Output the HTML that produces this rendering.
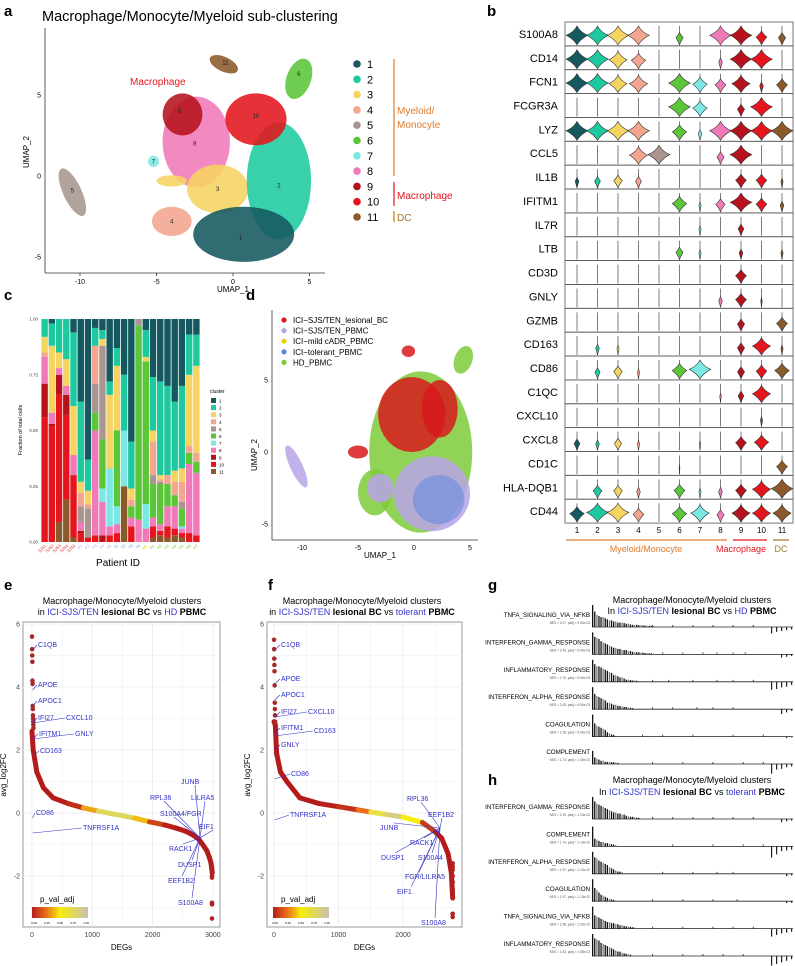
<!DOCTYPE html>
<html><head><meta charset="utf-8"><style>
html,body{margin:0;padding:0;background:#fff;}
svg{display:block;font-family:"Liberation Sans",Arial,sans-serif;}
</style></head><body>
<svg id="fig" width="795" height="966" viewBox="0 0 795 966" xmlns="http://www.w3.org/2000/svg">
<text x="4" y="16" font-size="15" font-weight="bold">a</text>
<text x="487" y="16" font-size="15" font-weight="bold">b</text>
<text x="4" y="300" font-size="15" font-weight="bold">c</text>
<text x="246" y="300" font-size="15" font-weight="bold">d</text>
<text x="4" y="590" font-size="15" font-weight="bold">e</text>
<text x="268" y="590" font-size="15" font-weight="bold">f</text>
<text x="488" y="590" font-size="15" font-weight="bold">g</text>
<text x="488" y="785" font-size="15" font-weight="bold">h</text>

<text x="42" y="21" font-size="14.5">Macrophage/Monocyte/Myeloid sub-clustering</text>
<g id="pa"></g>
<line x1="45" y1="28" x2="45" y2="273" stroke="#333" stroke-width="0.8"/>
<line x1="45" y1="273" x2="325" y2="273" stroke="#333" stroke-width="0.8"/>
<text x="233" y="292" font-size="8" text-anchor="middle">UMAP_1</text>
<text x="0" y="0" font-size="8" text-anchor="middle" transform="translate(29,152) rotate(-90)">UMAP_2</text>
<text x="130" y="85" font-size="10" fill="#e4151d">Macrophage</text>
<g id="paleg"></g>
<line x1="394" y1="59" x2="394" y2="176" stroke="#e07a2a" stroke-width="1.2"/>
<text x="397" y="114" font-size="10" fill="#e07a2a">Myeloid/</text>
<text x="397" y="128" font-size="10" fill="#e07a2a">Monocyte</text>
<line x1="394" y1="182" x2="394" y2="206" stroke="#e4151d" stroke-width="1.2"/>
<text x="397" y="199" font-size="10" fill="#e4151d">Macrophage</text>
<line x1="394" y1="211" x2="394" y2="222" stroke="#b8860b" stroke-width="1.2"/>
<text x="397" y="221" font-size="10" fill="#a0782a">DC</text>

<g id="pb"></g>
<line x1="566" y1="540" x2="727" y2="540" stroke="#e07a2a" stroke-width="1.2"/>
<line x1="733" y1="540" x2="767" y2="540" stroke="#e4151d" stroke-width="1.2"/>
<line x1="773" y1="540" x2="789" y2="540" stroke="#a0782a" stroke-width="1.2"/>
<text x="646" y="552" font-size="9" fill="#e07a2a" text-anchor="middle">Myeloid/Monocyte</text>
<text x="741" y="552" font-size="9" fill="#e4151d" text-anchor="middle">Macrophage</text>
<text x="781" y="552" font-size="9" fill="#a0782a" text-anchor="middle">DC</text>

<g id="pc"></g>
<text x="0" y="0" font-size="5.5" text-anchor="middle" transform="translate(22,430) rotate(-90)">Fraction of total cells</text>
<text x="118" y="566" font-size="10" text-anchor="middle">Patient ID</text>
<text x="210" y="393" font-size="5">cluster</text>

<g id="pd"></g>
<line x1="272" y1="310" x2="272" y2="540" stroke="#333" stroke-width="0.8"/>
<line x1="272" y1="540" x2="478" y2="540" stroke="#333" stroke-width="0.8"/>
<text x="380" y="558" font-size="8" text-anchor="middle">UMAP_1</text>
<text x="0" y="0" font-size="8" text-anchor="middle" transform="translate(257,455) rotate(-90)">UMAP_2</text>
<g id="pdleg"></g>

<text x="122" y="604" font-size="9" text-anchor="middle">Macrophage/Monocyte/Myeloid clusters</text>
<text x="122" y="615" font-size="9" text-anchor="middle">in <tspan fill="#3333cc">ICI-SJS/TEN</tspan> <tspan font-weight="bold">lesional BC</tspan> vs <tspan fill="#3333cc">HD</tspan> <tspan font-weight="bold">PBMC</tspan></text>
<text x="362" y="604" font-size="9" text-anchor="middle">Macrophage/Monocyte/Myeloid clusters</text>
<text x="362" y="615" font-size="9" text-anchor="middle">in <tspan fill="#3333cc">ICI-SJS/TEN</tspan> <tspan font-weight="bold">lesional BC</tspan> vs <tspan fill="#3333cc">tolerant</tspan> <tspan font-weight="bold">PBMC</tspan></text>
<g id="pe"></g>
<g id="pf"></g>

<text x="692" y="603" font-size="9" text-anchor="middle">Macrophage/Monocyte/Myeloid clusters</text>
<text x="692" y="614" font-size="9" text-anchor="middle">In <tspan fill="#3333cc">ICI-SJS/TEN</tspan> <tspan font-weight="bold">lesional BC</tspan> vs <tspan fill="#3333cc">HD</tspan> <tspan font-weight="bold">PBMC</tspan></text>
<text x="692" y="783" font-size="9" text-anchor="middle">Macrophage/Monocyte/Myeloid clusters</text>
<text x="692" y="795" font-size="9" text-anchor="middle">In <tspan fill="#3333cc">ICI-SJS/TEN</tspan> <tspan font-weight="bold">lesional BC</tspan> vs <tspan fill="#3333cc">tolerant</tspan> <tspan font-weight="bold">PBMC</tspan></text>
<g id="pg"></g>
<g id="ph"></g>
</svg>
<script>
const NS="http://www.w3.org/2000/svg";
function mk(tag,attrs,parent){const e=document.createElementNS(NS,tag);for(const k in attrs)e.setAttribute(k,attrs[k]);parent.appendChild(e);return e;}
const clusterColors=["#15585f","#1ec9a0","#f5d462","#f4a58f","#a99690","#5ac638","#7be8e5","#f07ab8","#b5121b","#e4151d","#8b5a2b"];

const clusterIds=[1,2,3,4,5,6,7,8,9,10,11];
const blobCluster=[8,3,3,2,1,10,9,4,5,6,7,11];
const blobCx=[-2.4,-1.0,-4.0,3.0,0.7,1.5,-3.3,-4.0,-10.5,4.3,-5.2,-0.6];
const blobCy=[2.1,-0.8,-0.3,-0.3,-3.6,3.5,3.8,-2.8,-1.0,6.0,0.9,6.9];
const blobRx=[2.2,2.0,1.0,2.1,3.3,2.0,1.3,1.3,0.6,0.8,0.35,1.0];
const blobRy=[2.8,1.5,0.35,3.6,1.7,1.6,1.3,0.9,1.6,1.3,0.35,0.45];
const blobRot=[0,0,0,0,0,0,0,0,-25,20,0,25];
const labelX=[0.5,3.0,-1.0,-4.0,-10.5,4.3,-5.2,-2.5,-3.5,1.5,-0.5];
const labelY=[-3.8,-0.6,-0.8,-2.8,-0.9,6.3,0.9,2.0,4.0,3.7,7.0];
const axA=x=>233+x*15.3, ayA=y=>176-y*16.2;
const pa=document.getElementById('pa');
const aXTicks=[-10,-5,0,5], aYTicks=[-5,0,5];
aXTicks.forEach(t=>{const l=mk('line',{x1:axA(t),x2:axA(t),y1:273,y2:276,stroke:'#333','stroke-width':0.8},pa);


const tx=mk('text',{x:axA(t),y:284,'font-size':7,'text-anchor':'middle'},pa);tx.textContent=t;

});
aYTicks.forEach(t=>{const tx=mk('text',{x:41,y:ayA(t)+2.5,'font-size':7,'text-anchor':'end'},pa);tx.textContent=t;

});
blobCluster.forEach((id,i)=>{const cx=axA(blobCx[i]),cy=ayA(blobCy[i]);
const e=mk('ellipse',{cx:cx,cy:cy,rx:blobRx[i]*15.3,ry:blobRy[i]*16.2,fill:clusterColors[id-1],'fill-opacity':0.88,transform:`rotate(${blobRot[i]} ${cx} ${cy})`},pa);

});
clusterIds.forEach((id,i)=>{const t=mk('text',{x:axA(labelX[i]),y:ayA(labelY[i])+2,'font-size':6,'text-anchor':'middle',fill:'#222'},pa);t.textContent=id;

});
const paleg=document.getElementById('paleg');
clusterIds.forEach((id,i)=>{const y=64+i*15.3;
const c=mk('circle',{cx:357,cy:y,r:3.8,fill:clusterColors[i]},paleg);


const t=mk('text',{x:367,y:y+4,'font-size':11},paleg);t.textContent=id;

});

const genes=["S100A8","CD14","FCN1","FCGR3A","LYZ","CCL5","IL1B","IFITM1","IL7R","LTB","CD3D","GNLY","GZMB","CD163","CD86","C1QC","CXCL10","CXCL8","CD1C","HLA-DQB1","CD44"];
const expr=[
[3,3,3,3,0,1,0,3,3,1.5,1],
[3,3,2.5,2,0,0,0,0.5,3,3,0],
[3,3,2.5,2.5,0,3,2,1.5,2.5,0.5,1.5],
[0,0,0,0,0,3,2,0,1,3,0],
[3,3,3,3,0,2,0.5,3,3,3,3],
[0,0,0,2.5,3,0,0,1,3,0,0],
[0.5,0.8,1.2,0.8,0,0,0,0,1.5,1.5,0.3],
[0,0,0,0,0,2,0.3,1.3,3,1.5,0.5],
[0,0,0,0,0,0,0.3,0,0.8,0,0],
[0,0,0,0,0,1,0.3,0,0.5,0,0.3],
[0,0,0,0,0,0,0,0,1.5,0,0],
[0,0,0,0,0,0,0,0.5,1.5,0.2,0],
[0,0,0,0,0,0,0,0,1,0,1.5],
[0,0.5,0.3,0,0,0,0,0,1,2.5,0.3],
[0,0.7,1.2,0.3,0,2,3,0,1,1.5,2],
[0,0,0,0,0,0,0,0.2,0.8,2.5,0],
[0,0,0,0,0,0,0,0,0,0.3,0],
[0.8,0.5,1,0.3,0,0,0.2,0,1.5,2,0],
[0,0,0,0,0,0.1,0,0,0,0,1.5],
[0,1.2,1.2,0.5,0,1.5,0.3,0.5,1.5,2.5,3],
[2,3,3,1.5,0,2,2.5,1,2.5,2.5,2.5]];
const pb=document.getElementById('pb');
const rowH=23.86, rowTop=22, colX=c=>577+c*20.5;
genes.forEach((g,r)=>{const top=rowTop+r*rowH,bot=top+rowH;
const rc=mk('rect',{x:565,y:top,width:228,height:rowH,fill:'none',stroke:'#555','stroke-width':0.8},pb);


const t=mk('text',{x:558,y:top+rowH/2+4,'font-size':11,'text-anchor':'end'},pb);t.textContent=g;


expr[r].forEach((w,c)=>{const cx=colX(c);
const ln=mk('line',{x1:cx,x2:cx,y1:bot-1,y2:top+4,stroke:'#444','stroke-width':0.7},pb);


if(w>0){const hw=w*3.6,mid=bot-7-w*1.2,t0=bot-10-w*3.3;
const p=mk('path',{d:`M${cx},${t0} Q${cx+hw*0.3},${mid-3} ${cx+hw},${mid} Q${cx+hw*0.3},${mid+4} ${cx},${bot-1} Q${cx-hw*0.3},${mid+4} ${cx-hw},${mid} Q${cx-hw*0.3},${mid-3} ${cx},${t0}Z`,fill:clusterColors[c],stroke:'#333','stroke-width':0.6},pb);

}
});});
clusterIds.forEach((id,c)=>{const t=mk('text',{x:colX(c),y:533,'font-size':8,'text-anchor':'middle'},pb);t.textContent=id;

});

const patientColors=["#d22","#d22","#d22","#d22","#d22","#b9a3e8","#b9a3e8","#b9a3e8","#b9a3e8","#b9a3e8","#5a86e0","#5a86e0","#5a86e0","#5a86e0","#e8d200","#7ecb3a","#7ecb3a","#7ecb3a","#7ecb3a","#7ecb3a","#7ecb3a","#7ecb3a"];
const patients=["SJS1","SJS2","SJS3","SJS4","SJS5","P1","P2","P3","P4","P5","T1","T2","T3","T4","M1","H1","H2","H3","H4","H5","H6","H7"];
const fractions=[
[0,.08,.07,.02,0,0,0,.12,.15,.56,0],
[.02,.10,.30,0,0,0,0,.05,.01,.52,0],
[0,.15,.07,0,0,0,0,.03,.09,.57,.09],
[0,.18,.12,0,0,0,0,.04,.09,.38,.19],
[.06,.33,.22,0,0,0,0,.09,0,.28,.02],
[.37,.36,.05,.06,.07,0,0,.04,.01,.04,0],
[.63,.14,.06,.02,.13,0,0,0,0,.02,0],
[.04,.08,0,.17,.13,.08,0,.47,0,.03,0],
[.05,.04,.03,0,.42,.22,.06,.15,.03,0,0],
[.28,.06,.33,0,0,0,.26,.04,0,.03,0],
[.13,.08,.29,0,0,.34,.08,.04,0,.04,0],
[.25,.25,0,0,0,0,.25,0,0,0,.25],
[.55,.21,.05,.03,0,.05,0,.04,0,.07,0],
[0,0,0,0,.03,.87,0,.10,0,0,0],
[.05,.12,.02,0,0,.64,.11,.06,0,0,0],
[.26,.24,.05,.15,.04,.15,0,.04,0,.05,.02],
[.28,.42,.02,.01,.01,.18,0,.03,0,.02,.03],
[.30,.40,0,.04,0,.10,0,.09,0,.05,.02],
[.37,.31,.05,.06,0,.05,0,.10,0,.03,.03],
[.30,.37,.06,.09,.03,.08,.01,.02,0,.02,.02],
[.07,.18,.32,.03,0,.05,0,.31,0,.04,0],
[.07,.14,.39,.04,0,.05,0,.28,0,.03,0]];
const cTicks=[0,0.25,0.5,0.75,1.0], cTickLabels=["0.00","0.25","0.50","0.75","1.00"];
const pc=document.getElementById('pc');
const cY=v=>542-v*223, cBand=(200-41)/patients.length;
cTicks.forEach((t,i)=>{const tx=mk('text',{x:38,y:cY(t)+1.5,'font-size':4.5,'text-anchor':'end',fill:'#444'},pc);tx.textContent=cTickLabels[i];

});
fractions.forEach((fr,b)=>{let acc=0;const x=41+b*cBand;
for(let k=10;k>=0;k--){const v=fr[k];if(v<=0)continue;
const r=mk('rect',{x:x+0.4,y:cY(acc+v),width:cBand-0.8,height:v*223,fill:clusterColors[k]},pc);


acc+=v;}
if(acc<1){const r=mk('rect',{x:x+0.4,y:cY(1),width:cBand-0.8,height:(1-acc)*223,fill:clusterColors[0]},pc);

}
const t=mk('text',{x:0,y:0,'font-size':4,fill:patientColors[b],'text-anchor':'end',transform:`translate(${x+cBand/2+2},${546}) rotate(-45)`},pc);t.textContent=patients[b];

});
clusterIds.forEach((id,i)=>{const y=398+i*7.1;
const r=mk('rect',{x:211,y:y,width:5,height:5,fill:clusterColors[i]},pc);


const t=mk('text',{x:219,y:y+4.5,'font-size':4.5},pc);t.textContent=id;

});

const groupNames=["ICI−SJS/TEN_lesional_BC","ICI−SJS/TEN_PBMC","ICI−mild cADR_PBMC","ICI−tolerant_PBMC","HD_PBMC"];
const groupColors=["#d7191c","#b9a3e8","#e8d200","#5a86e0","#7ecb3a"];
const dGroup=[4,4,1,3,0,0,0,1,4,0,1];
const dCx=[0.6,-3.5,1.6,2.2,-0.2,2.3,-5.0,-10.5,4.4,-0.5,-3.0];
const dCy=[0.0,-2.8,-2.9,-3.3,2.6,3.0,0.0,-1.0,6.4,7.0,-2.5];
const dRx=[4.6,1.5,3.4,2.3,3.0,1.6,0.9,0.55,0.8,0.6,1.2];
const dRy=[5.6,1.6,2.6,1.7,2.6,2.0,0.45,1.6,1.0,0.4,1.0];
const dRot=[0,0,0,0,0,0,0,-25,20,0,0];
const dX=x=>414+x*11.2, dY=y=>452-y*14.4;
const pd=document.getElementById('pd');
dCx.forEach((cx0,i)=>{const cx=dX(cx0),cy=dY(dCy[i]);
const e=mk('ellipse',{cx:cx,cy:cy,rx:dRx[i]*11.2,ry:dRy[i]*14.4,fill:groupColors[dGroup[i]],'fill-opacity':dGroup[i]==3?0.5:0.85,transform:`rotate(${dRot[i]} ${cx} ${cy})`},pd);

});
const dXTicks=[-10,-5,0,5], dYTicks=[-5,0,5];
dXTicks.forEach(t=>{const tx=mk('text',{x:dX(t),y:550,'font-size':7,'text-anchor':'middle'},pd);tx.textContent=t;

});
dYTicks.forEach(t=>{const tx=mk('text',{x:268,y:dY(t)+2.5,'font-size':7,'text-anchor':'end'},pd);tx.textContent=t;

});
const pdleg=document.getElementById('pdleg');
groupNames.forEach((g,i)=>{const y=320+i*10.6;
const c=mk('circle',{cx:284,cy:y,r:2.6,fill:groupColors[i]},pdleg);


const t=mk('text',{x:293,y:y+3,'font-size':8},pdleg);t.textContent=g;

});

const eRank=[0,20,80,190,350,600,850,1100,1400,1700,1950,2200,2390,2550,2670,2760,2830,2900,2940,2970,2990];
const eFC=[2.6,2.0,1.3,0.8,0.48,0.3,0.16,0.06,-0.05,-0.16,-0.28,-0.38,-0.48,-0.58,-0.7,-0.82,-1.0,-1.2,-1.4,-1.6,-1.9];
const ePval=[0,0,0,0,0,0.02,0.1,0.6,0.9,0.6,0.2,0.05,0,0,0,0,0,0,0,0,0];
const eTopFC=[5.6,5.2,5.0,4.8,4.2,4.1,3.4,3.3,3.1,3.0,2.9,2.8,2.7];
const eBotFC=[-1.7,-1.8,-1.9,-2.0,-2.05,-2.85,-2.9,-3.35];
const fRank=[0,20,40,100,200,400,700,1000,1300,1500,1750,2000,2300,2500,2600,2700,2750,2770];
const fFC=[2.9,2.8,1.9,1.3,1.0,0.48,0.3,0.2,0.1,0.03,-0.05,-0.13,-0.3,-0.6,-0.8,-1.3,-1.9,-2.7];
const fPval=[0,0,0,0,0,0,0,0.03,0.1,0.4,0.9,0.8,0.2,0,0,0,0,0];
const fTopFC=[5.5,5.2,4.9,4.7,4.5,4.05,3.5,3.3,3.1,2.9];
const fBotFC=[-1.6,-1.7,-1.8,-2.0,-2.2,-2.4,-2.5,-2.7,-3.2,-3.3];
const yTicksEF=[-2,0,2,4,6];
const eXTicks=[0,1000,2000,3000], fXTicks=[0,1000,2000];
const cbTicks=["0.00","0.25","0.50","0.75","1.00"];
const eLabels=[["C1QB",38,647],["APOE",38,687],["APOC1",38,703],["IFI27",38,720],["CXCL10",66,720],["IFITM1",39,736],["GNLY",75,736],["CD163",40,753],["CD86",36,815],["TNFRSF1A",83,830],["JUNB",181,784],["RPL36",150,800],["LILRA5",191,800],["S100A4/FGR",160,816],["EIF1",199,829],["RACK1",169,851],["DUSP1",178,867],["EEF1B2",168,883],["S100A8",178,905]];
const fLabels=[["C1QB",281,647],["APOE",281,681],["APOC1",281,697],["IFI27",281,714],["CXCL10",308,714],["IFITM1",281,730],["CD163",314,733],["GNLY",281,747],["CD86",291,776],["TNFRSF1A",290,817],["RPL36",407,801],["EEF1B2",428,817],["JUNB",380,830],["RACK1",410,845],["DUSP1",381,860],["S100A4",418,860],["FGR/LILRA5",405,879],["EIF1",397,894],["S100A8",421,925]];
function pcol(p){const stops=[[0,[180,26,26]],[0.25,[232,110,26]],[0.5,[245,238,10]],[1,[200,192,176]]];
for(let i=1;i<stops.length;i++){if(p<=stops[i][0]){const a=stops[i-1],b=stops[i],t=(p-a[0])/(b[0]-a[0]);
return 'rgb('+a[1].map((v,k)=>Math.round(v+(b[1][k]-v)*t)).join(',')+')';}}return 'rgb(200,192,176)';}
function degPlot(gid,x0,x1,zeroX,pxPer1000,ranks,fcs,pv,top,bot,botRank,xt,labels,lx,cbx,pre,tgx,tgy){
const g=document.getElementById(gid);const X=r=>zeroX+r*pxPer1000/1000, Y=v=>813-v*31.5;
const bg=mk('rect',{x:x0,y:622,width:x1-x0,height:305,fill:'#fff',stroke:'#999','stroke-width':1},g);


for(let v=-3;v<=6;v++){const gl=mk('line',{x1:x0,x2:x1,y1:Y(v),y2:Y(v),stroke:'#ececec','stroke-width':v%2?0.5:0.8},g);

}
for(let r=0;r<=3000;r+=500){if(X(r)>x1)break;const gl=mk('line',{x1:X(r),x2:X(r),y1:622,y2:927,stroke:'#ececec','stroke-width':r%1000?0.5:0.8},g);

}
yTicksEF.forEach(t=>{const tx=mk('text',{x:x0-3,y:Y(t)+2.5,'font-size':7,'text-anchor':'end',fill:'#444'},g);tx.textContent=t;

});
xt.forEach(t=>{const tx=mk('text',{x:X(t),y:937,'font-size':7,'text-anchor':'middle',fill:'#444'},g);tx.textContent=t;

});
const yt=mk('text',{'font-size':8,'text-anchor':'middle',transform:`translate(${x0-17},775) rotate(-90)`},g);yt.textContent='avg_log2FC';


const xtt=mk('text',{x:(x0+x1)/2,y:950,'font-size':8,'text-anchor':'middle'},g);xtt.textContent='DEGs';


for(let i=1;i<ranks.length;i++){const s=mk('line',{x1:X(ranks[i-1]),y1:Y(fcs[i-1]),x2:X(ranks[i]),y2:Y(fcs[i]),stroke:pcol((pv[i-1]+pv[i])/2),'stroke-width':5,'stroke-linecap':'round'},g);

}
top.forEach((v,i)=>{const c=mk('circle',{cx:X(i*2),cy:Y(v),r:2.3,fill:'#a52a2a'},g);

});
bot.forEach(v=>{const c=mk('circle',{cx:X(botRank),cy:Y(v),r:2.3,fill:'#b22222'},g);

});
labels.forEach(l=>{const t=mk('text',{x:l[1],y:l[2],'font-size':7,fill:'#3333cc'},g);t.textContent=l[0];


const left=l[1]<lx;
const ln=mk('line',{x1:left?l[1]-1:l[1]+14,y1:left?l[2]-2:(l[2]<tgy?l[2]+1:l[2]-7),x2:left?X(10):tgx,y2:left?l[2]+3:tgy,stroke:'#3333cc','stroke-width':0.6},g);

});
const lt=mk('text',{x:cbx+8,y:902,'font-size':8},g);lt.textContent='p_val_adj';


const gradId=pre+'grad';const defs=mk('defs',{},g);const lg=mk('linearGradient',{id:gradId},defs);
[[0,'#b51a1a'],[0.25,'#e86e1a'],[0.5,'#f5ee0a'],[1,'#c8c0b0']].forEach(s=>mk('stop',{offset:s[0],'stop-color':s[1]},lg));
const cb=mk('rect',{x:cbx,y:907,width:56,height:11,fill:`url(#${gradId})`},g);


cbTicks.forEach((t,i)=>{const tx=mk('text',{x:cbx+2+i*13,y:924,'font-size':3,'text-anchor':'middle'},g);tx.textContent=t;

});}
degPlot('pe',23,220,32,60.3,eRank,eFC,ePval,eTopFC,eBotFC,2985,eXTicks,eLabels,100,32,'e',200,838);
degPlot('pf',267,462,274,64.5,fRank,fFC,fPval,fTopFC,fBotFC,2770,fXTicks,fLabels,340,273,'f',440,828);

const gNames=["TNFA_SIGNALING_VIA_NFKB","INTERFERON_GAMMA_RESPONSE","INFLAMMATORY_RESPONSE","INTERFERON_ALPHA_RESPONSE","COAGULATION","COMPLEMENT"];
const gNes=["NES = 2.07, padj = 9.60e-03","NES = 2.43, padj = 9.60e-03","NES = 1.79, padj = 9.60e-03","NES = 2.05, padj = 9.60e-03","NES = 2.18, padj = 9.60e-03","NES = 1.74, padj = 1.40e-02"];
const hNames=["INTERFERON_GAMMA_RESPONSE","COMPLEMENT","INTERFERON_ALPHA_RESPONSE","COAGULATION","TNFA_SIGNALING_VIA_NFKB","INFLAMMATORY_RESPONSE"];
const hNes=["NES = 2.19, padj = 1.13e-02","NES = 1.74, padj = 1.13e-02","NES = 1.97, padj = 1.13e-02","NES = 1.97, padj = 1.13e-02","NES = 1.58, padj = 1.20e-02","NES = 1.63, padj = 1.55e-02"];
const gLead=[
[1,.7,.55,.5,.45,.45,.4,.35,.3,.3,.25,.25,.2,.2,.2,.18,.15,.15,.12,.1,.1,.1,.08,.08,.07,.06,.06,.05,.05,.04],
[1,.8,.75,.7,.6,.55,.5,.45,.4,.35,.3,.3,.25,.25,.2,.2,.2,.15,.15,.12,.1,.1,.1,.08,.08,.06,.06,.05,.05,.04],
[1,.8,.7,.7,.65,.6,.55,.5,.45,.4,.3,.3,.25,.2,.2,.15,.1,.1,.08,.06,.06,.05],
[1,.7,.6,.55,.5,.45,.4,.3,.3,.25,.2,.2,.15,.15,.12,.1,.1,.08,.06,.05],
[1,.6,.5,.45,.4,.35,.3,.2,.15,.1,.08],
[.6,.3,.25,.2,.15,.15,.1,.1,.1,.08,.08,.06,.05]];
const hLead=[
[1,.8,.7,.65,.6,.55,.5,.45,.4,.35,.3,.3,.25,.25,.2,.2,.15,.12,.1,.1,.08,.06,.05],
[.9,.35,.3,.25,.2,.2,.15,.15,.12,.1,.08,.06],
[1,.75,.7,.6,.55,.5,.45,.4,.3,.25,.2,.15,.1,.1,.08],
[1,.6,.5,.4,.3,.25,.2,.15,.1,.08,.06],
[1,.6,.55,.5,.45,.4,.35,.3,.3,.25,.25,.2,.2,.15,.15,.12,.1,.1,.08,.06,.05],
[1,.8,.75,.7,.6,.55,.5,.45,.4,.35,.3,.25,.2,.2,.15,.12,.1,.08,.06]];
const gTail=[[.3,.4,.5,.6,.7,.8],[.35,.45,.55,.62,.7,.76],[.3,.38,.5,.62,.7,.8],[.3,.4,.52,.6,.7],[.25,.35,.5,.7,.85],[.3,.45,.6,.75,.85]];
const gNeg=[[.15,.2,.25,.3,.4],[.1,.15,.2],[.2,.3,.35,.45,.5],[.1,.2,.3],[.05,.1],[.15,.2,.3,.35,.6]];
const hTail=[[.3,.4,.5,.6,.7,.8],[.4,.6,.75,.85],[.35,.5,.62,.7],[.3,.45,.6,.72],[.3,.45,.6,.7,.8],[.3,.45,.55,.65,.75]];
const hNeg=[[.1,.15,.2],[.2,.25,.3,.5,.7],[.1,.15],[.1,.12],[.2,.25,.3,.4,.5],[.2,.3,.4,.5,.6]];
function gsea(gid,names,nes,lead,tail,neg,y0,pre){const g=document.getElementById(gid);
names.forEach((n,i)=>{const ly=y0+i*27.4,base=ly+10,x0=592,x1=793;
const t=mk('text',{x:590,y:ly,'font-size':6.2,'text-anchor':'end'},g);t.textContent=n;


const s=mk('text',{x:590,y:ly+7,'font-size':3.2,'text-anchor':'end',fill:'#555'},g);s.textContent=nes[i];


const bl=mk('line',{x1:x0,x2:x1,y1:base,y2:base,stroke:'#222','stroke-width':0.8},g);


lead[i].forEach((h,k)=>{const r=mk('rect',{x:x0+k*2.1,y:base-h*22,width:1.3,height:h*22,fill:k%3==2?'#777':'#111'},g);

});
tail[i].forEach(p=>{const r=mk('rect',{x:x0+p*(x1-x0),y:base-2,width:0.8,height:2,fill:'#222'},g);

});
neg[i].forEach((h,k)=>{const r=mk('rect',{x:x1-2-k*5,y:base,width:1.2,height:h*16,fill:'#222'},g);

});});}
gsea('pg',gNames,gNes,gLead,gTail,gNeg,617,'g');
gsea('ph',hNames,hNes,hLead,hTail,hNeg,809,'h');
</script>
</body></html>
